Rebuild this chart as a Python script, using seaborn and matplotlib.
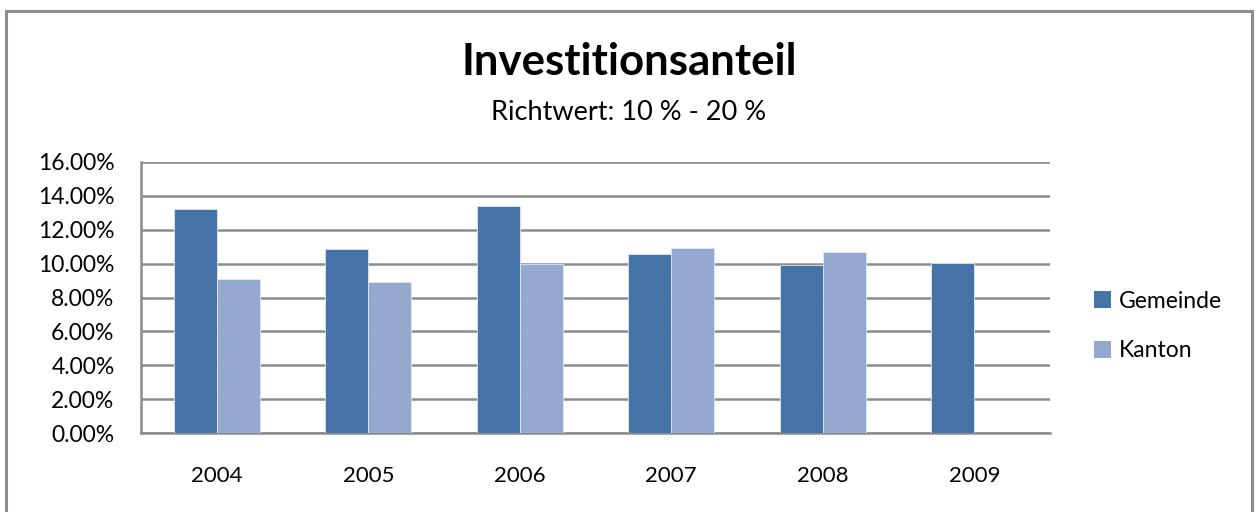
import matplotlib
matplotlib.use("Agg")
import matplotlib.pyplot as plt
import seaborn as sns
import pandas as pd
from matplotlib.patches import Rectangle, Patch
from matplotlib.ticker import FuncFormatter, MultipleLocator

years = ["2004", "2005", "2006", "2007", "2008", "2009"]
gemeinde = [13.22, 10.85, 13.43, 10.56, 9.94, 10.04]
kanton = [9.11, 8.90, 9.98, 10.91, 10.69, None]
series = ["Gemeinde", "Kanton"]
colors = ["#4572A7", "#95A9D0"]

rows = []
for y, g, k in zip(years, gemeinde, kanton):
    rows.append({"Jahr": y, "Serie": "Gemeinde", "Wert": g})
    if k is not None:
        rows.append({"Jahr": y, "Serie": "Kanton", "Wert": k})
df = pd.DataFrame(rows)

sns.set_theme(style="white")
plt.rcParams["font.family"] = ["Lato", "DejaVu Sans"]
plt.rcParams["text.color"] = "black"

fig = plt.figure(figsize=(12.59, 5.12), dpi=100)
ax = fig.add_axes([141 / 1259, 1 - 433 / 512, (1050 - 141) / 1259, (433 - 162) / 512])

sns.barplot(data=df, x="Jahr", y="Wert", hue="Serie", order=years,
            hue_order=series, palette=colors, saturation=1, width=0.57, dodge=True,
            edgecolor="#dfe6f2", linewidth=0.6, ax=ax, legend=False, zorder=3)

ax.set_ylim(0, 16)
ax.yaxis.set_major_locator(MultipleLocator(2))
ax.yaxis.set_major_formatter(FuncFormatter(lambda v, p: f"{v:.2f}%"))
ax.grid(axis="y", color="#8c8c8c", linewidth=1.8, zorder=0)
ax.set_axisbelow(True)
ax.set_xlabel("")
ax.set_ylabel("")
for s in ["top", "right"]:
    ax.spines[s].set_visible(False)
for s in ["left", "bottom"]:
    ax.spines[s].set_color("#8c8c8c")
    ax.spines[s].set_linewidth(1.8)
ax.tick_params(axis="y", labelsize=16.5, pad=19, length=0, labelcolor="black")
ax.tick_params(axis="x", labelsize=16, pad=24, length=0, labelcolor="black")

handles = [Patch(facecolor=c, edgecolor="none") for c in colors]
fig.legend(handles, series, loc="center left", bbox_to_anchor=(1073 / 1259, 1 - 326 / 512),
           frameon=False, fontsize=16.5, handlelength=0.75, handleheight=0.75,
           handletextpad=0.35, labelspacing=1.25, labelcolor="black")

fig.text(629 / 1259, 1 - 62 / 512, "Investitionsanteil", ha="center", va="center",
         fontsize=31.5, fontweight="bold", color="black")
fig.text(629 / 1259, 1 - 112 / 512, "Richtwert: 10 % - 20 %", ha="center", va="center",
         fontsize=19.5, color="black")

fig.patches.append(Rectangle((6 / 1259, -0.05), (1252 - 6) / 1259, 1.05 - 11 / 512,
                             transform=fig.transFigure, fill=False,
                             edgecolor="#8c8c8c", linewidth=2.2))

fig.savefig("out.png", dpi=100, facecolor="white")
